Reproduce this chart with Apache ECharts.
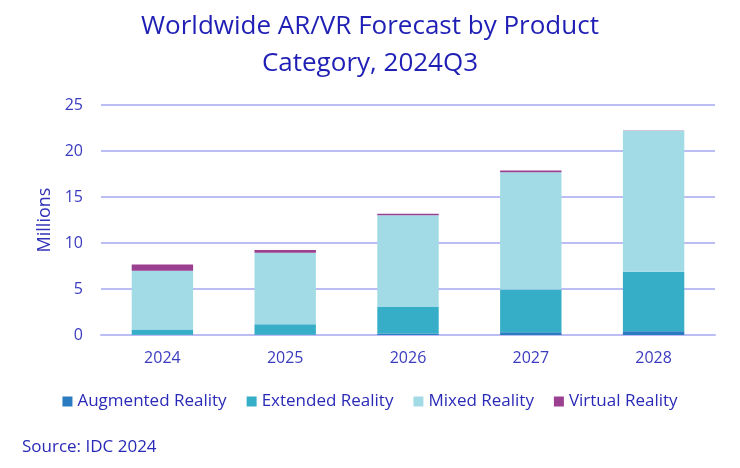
<!DOCTYPE html>
<html><head><meta charset="utf-8">
<script src="https://cdn.jsdelivr.net/npm/echarts@6/dist/echarts.min.js"></script>
<style>html,body{margin:0;padding:0;background:#fff}#c{width:740px;height:468px}</style>
</head><body><div id="c"></div>
<script>
const categories = ['2024','2025','2026','2027','2028'];
const augmented = [0.03, 0.03, 0.15, 0.3, 0.4];
const extended = [0.57, 1.14, 2.9, 4.65, 6.47];
const mixed = [6.38, 7.76, 9.97, 12.75, 15.33];
const virtual = [0.68, 0.31, 0.15, 0.18, 0.02];
const yTicks = {min: 0, max: 25, interval: 5};

const font = '"Open Sans", "Noto Sans", sans-serif';
const chart = echarts.init(document.getElementById('c'));
function s(name, data, color){
  return {name, type:'bar', stack:'t', data, barWidth:'50%', itemStyle:{color}, emphasis:{disabled:true}};
}
chart.setOption({
  animation:false,
  textStyle:{fontFamily:font},
  title:{text:'Worldwide AR/VR Forecast by Product\nCategory, 2024Q3', left:'center', top:3,
    textStyle:{color:'#1f1fb5', fontSize:26, fontWeight:'normal', lineHeight:37, fontFamily:font}},
  grid:{left:101, right:25, top:105, bottom:133},
  xAxis:{type:'category', data:categories,
    axisLine:{lineStyle:{color:'#bdbdf5', width:2}}, axisTick:{show:false},
    axisLabel:{color:'#3b3bc0', fontSize:16, margin:15, fontFamily:font}},
  yAxis:{type:'value', min:yTicks.min, max:yTicks.max, interval:yTicks.interval,
    name:'Millions', nameLocation:'middle', nameGap:40, nameRotate:90,
    nameTextStyle:{color:'#3030b8', fontSize:18, fontFamily:font},
    axisLine:{show:false}, axisTick:{show:false},
    axisLabel:{color:'#3b3bc0', fontSize:16, margin:18, fontFamily:font},
    splitLine:{lineStyle:{color:'#bdbdf5', width:2}}},
  legend:{bottom:53, left:'center', itemWidth:10, itemHeight:10, itemGap:20,
    icon:'rect', textStyle:{color:'#2a2ab8', fontSize:17, fontFamily:font},
    data:['Augmented Reality','Extended Reality','Mixed Reality','Virtual Reality']},
  graphic:[{type:'text', left:22, top:439, style:{text:'Source: IDC 2024', fill:'#2a2ab8', font:'17px '+font}}],
  series:[
    s('Augmented Reality', augmented, '#2a7cc0'),
    s('Extended Reality', extended, '#37aec7'),
    s('Mixed Reality', mixed, '#a2dbe5'),
    s('Virtual Reality', virtual, '#9b3f91')
  ]
});
</script></body></html>
